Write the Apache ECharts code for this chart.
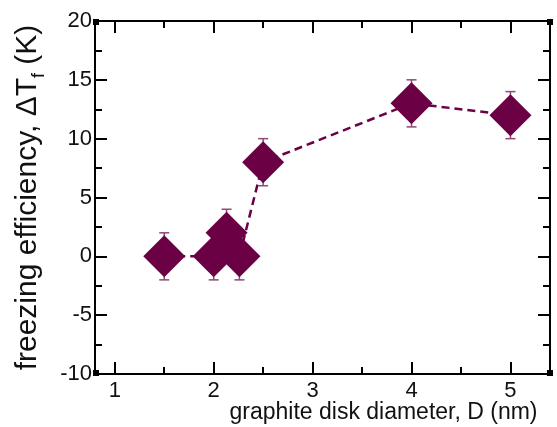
<!DOCTYPE html>
<html>
<head>
<meta charset="utf-8">
<script src="https://cdn.jsdelivr.net/npm/echarts@6/dist/echarts.min.js"></script>
<style>
  html, body { margin: 0; padding: 0; background: #fff; }
  #chart { width: 557px; height: 427px; }
</style>
</head>
<body>
<div id="chart"></div>
<script>
// disk diameter (nm) vs freezing efficiency (K)
const diameters = [1.5, 2.0, 2.13, 2.26, 2.5, 4.0, 5.0];
const deltaT = [0, 0, 2, 0, 8, 13, 12];
const errors = [2, 2, 2, 2, 2, 2, 2];
const xMajorTicks = [1, 2, 3, 4, 5];
const xMinorTicks = [1.5, 2.5, 3.5, 4.5];
const yMajorTicks = [-10, -5, 0, 5, 10, 15, 20];
const yMinorTicks = [-7.5, -2.5, 2.5, 7.5, 12.5, 17.5];

const purple = '#6c0044';
const errColor = '#8e4a72';
const font = 'Liberation Sans, Arial, sans-serif';

const points = diameters.map((d, i) => [d, deltaT[i]]);
const errData = diameters.map((d, i) => [d, deltaT[i] - errors[i], deltaT[i] + errors[i]]);

const chart = echarts.init(document.getElementById('chart'));

const lineAx = { onZero: false, lineStyle: { color: '#000', width: 2 } };
const tickStyle = { color: '#000', width: 2 };

// mirrored axes: labelled one plus overlays for minor ticks and opposite sides
const makeX = (pos, ticks, len) => ({
  type: 'value', min: 0.8, max: 5.4, position: pos,
  splitLine: { show: false }, axisLine: lineAx,
  axisTick: { inside: true, length: len, lineStyle: tickStyle, customValues: ticks },
  axisLabel: { show: false }
});
const makeY = (pos, ticks, len) => ({
  type: 'value', min: -10, max: 20, position: pos,
  splitLine: { show: false }, axisLine: lineAx,
  axisTick: { inside: true, length: len, lineStyle: tickStyle, customValues: ticks },
  axisLabel: { show: false }
});

const xMain = makeX('bottom', xMajorTicks, 12);
xMain.name = 'graphite disk diameter, D (nm)';
xMain.nameLocation = 'middle';
xMain.nameGap = 27;
xMain.nameMoveOverlap = false;
xMain.nameTextStyle = { fontFamily: font, fontSize: 23, color: '#111', verticalAlign: 'top', padding: [0, 0, 0, 122] };
xMain.axisLabel = { fontFamily: font, fontSize: 22, color: '#111', margin: 6, customValues: xMajorTicks };

const yMain = makeY('left', yMajorTicks, 12);
yMain.name = 'freezing efficiency, ΔT{sub|f} (K)';
yMain.nameLocation = 'middle';
yMain.nameGap = 47;
yMain.nameMoveOverlap = false;
yMain.nameTextStyle = {
  fontFamily: font, fontSize: 30, color: '#111',
  rich: { sub: { fontFamily: font, fontSize: 18, color: '#111', verticalAlign: 'bottom', padding: [22, 0, 0, 0] } }
};
yMain.axisLabel = { fontFamily: font, fontSize: 22, color: '#111', margin: 3, customValues: yMajorTicks };

chart.setOption({
  animation: false,
  backgroundColor: '#fff',
  grid: { left: 95, right: 7, top: 21, bottom: 53, outerBoundsMode: 'none' },
  xAxis: [
    xMain,
    makeX('bottom', xMinorTicks, 7),
    makeX('top', xMajorTicks, 12),
    makeX('top', xMinorTicks, 7)
  ],
  yAxis: [
    yMain,
    makeY('left', yMinorTicks, 7),
    makeY('right', yMajorTicks, 12),
    makeY('right', yMinorTicks, 7)
  ],
  series: [
    {
      type: 'line',
      data: points,
      symbol: 'none',
      lineStyle: { color: purple, width: 2.5, type: [8, 5] },
      z: 2
    },
    {
      type: 'custom',
      data: errData,
      z: 3,
      renderItem: (params, api) => {
        const x = api.value(0);
        const lo = api.coord([x, api.value(1)]);
        const hi = api.coord([x, api.value(2)]);
        const w = 5;
        const style = { stroke: errColor, lineWidth: 1.5 };
        return {
          type: 'group',
          children: [
            { type: 'line', shape: { x1: lo[0], y1: lo[1], x2: hi[0], y2: hi[1] }, style },
            { type: 'line', shape: { x1: lo[0] - w, y1: lo[1], x2: lo[0] + w, y2: lo[1] }, style },
            { type: 'line', shape: { x1: hi[0] - w, y1: hi[1], x2: hi[0] + w, y2: hi[1] }, style }
          ]
        };
      }
    },
    {
      type: 'scatter',
      data: points,
      symbol: 'diamond',
      symbolSize: [42, 42],
      itemStyle: { color: purple, opacity: 1 },
      z: 4
    }
  ],
  graphic: [
    { type: 'rect', shape: { x: 93, y: 19, width: 6, height: 6 }, style: { fill: '#000' } },
    { type: 'rect', shape: { x: 93, y: 370, width: 6, height: 6 }, style: { fill: '#000' } },
    { type: 'rect', shape: { x: 547, y: 19, width: 6, height: 6 }, style: { fill: '#000' } },
    { type: 'rect', shape: { x: 547, y: 370, width: 6, height: 6 }, style: { fill: '#000' } }
  ]
});
</script>
</body>
</html>
